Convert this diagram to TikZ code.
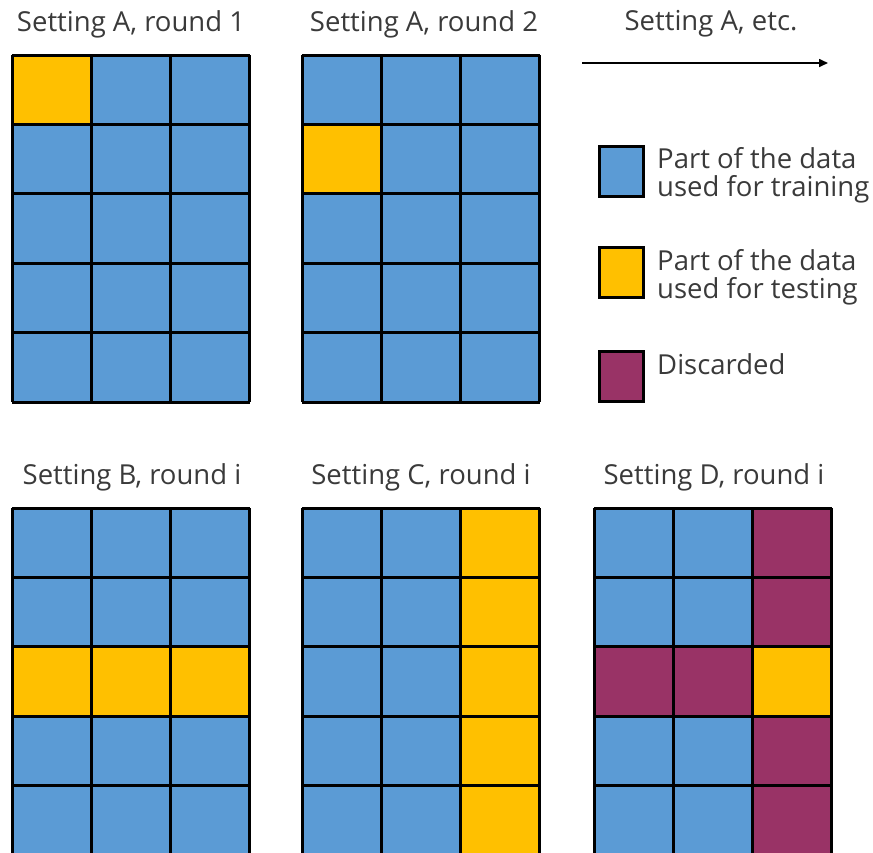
\documentclass[tikz,border=0pt]{standalone}
\usepackage{fontspec}
\setmainfont{Open Sans}
\usepackage{tikz}
\usetikzlibrary{positioning, calc, arrows.meta}
\definecolor{trainblue}{HTML}{5B9BD5}
\definecolor{testyellow}{HTML}{FFC000}
\definecolor{discardpurple}{HTML}{993366}
\definecolor{textgray}{HTML}{3A3A3A}
\tikzset{
    train/.style={fill=trainblue},
    test/.style={fill=testyellow},
    discard/.style={fill=discardpurple},
    gridline/.style={draw=black, line width=3pt},
    title/.style={font=\fontsize{27.5}{28}\selectfont, text=textgray, inner sep=0pt},
    legendtext/.style={font=\fontsize{27.5}{28}\selectfont, text=textgray, align=left, anchor=west, inner sep=0pt},
    keybox/.style={draw=black, line width=3pt, minimum width=44pt, minimum height=50pt, inner sep=0pt}
}
% cell (col,row) of a grid with top left corner #1
\newcommand{\gridcell}[4]{%
    \fill[#4] ($(#1)+({(#2)*79.3},{(#3)*69.4})$) rectangle ++(79.3,69.4);}
\newcommand{\gridlines}[1]{%
    \foreach \c in {0,...,3} {\draw[gridline] ($(#1)+({\c*79.3},0)$) -- ++(0,347);}
    \foreach \r in {0,...,5} {\draw[gridline] ($(#1)+(0,{\r*69.4})$) -- ++(238,0);}}

\begin{document}
\begin{tikzpicture}[x=1pt, y=-1pt]
    \useasboundingbox (0,0) rectangle (873,852);

    \coordinate (gA1) at (12,55);
    \coordinate (gA2) at (302,55);
    \coordinate (gB) at (12,508);
    \coordinate (gC) at (302,508);
    \coordinate (gD) at (594,508);

    % blue background of every grid
    \foreach \g in {gA1,gA2,gB,gC,gD}
        {\fill[train] (\g) rectangle ++(238,347);}

    % test and discarded cells
    \gridcell{gA1}{0}{0}{test}
    \gridcell{gA2}{0}{1}{test}
    \foreach \c in {0,1,2} {\gridcell{gB}{\c}{2}{test}}
    \foreach \r in {0,...,4} {\gridcell{gC}{2}{\r}{test}}
    \foreach \r in {0,1,3,4} {\gridcell{gD}{2}{\r}{discard}}
    \gridcell{gD}{0}{2}{discard}
    \gridcell{gD}{1}{2}{discard}
    \gridcell{gD}{2}{2}{test}

    \foreach \g in {gA1,gA2,gB,gC,gD}
        {\gridlines{\g}}

    % titles
    \node[title] (tA1) at (131,24) {Setting A, round 1};
    \node[title] (tA2) at (424,24) {Setting A, round 2};
    \node[title] (tA3) at (711,24) {Setting A, etc.};
    \node[title] (tB) at (132,477) {Setting B, round i};
    \node[title] (tC) at (421,477) {Setting C, round i};
    \node[title] (tD) at (714,477) {Setting D, round i};

    \coordinate (arrowstart) at (582,63);
    \coordinate (arrowend) at (828,63);
    \draw[line width=1.6pt, -{Triangle[length=9pt, width=8pt]}] (arrowstart) -- (arrowend);

    % legend
    \node[keybox, train] (ktrain) at (621,171) {};
    \node[keybox, test] (ktest) at (621,272) {};
    \node[keybox, discard] (kdiscard) at (621,376) {};
    \node[legendtext] (ltrain) at (657,175) {Part of the data\\used for training};
    \node[legendtext] (ltest) at (657,277) {Part of the data\\used for testing};
    \node[legendtext] (ldiscard) at (657,364) {Discarded};
\end{tikzpicture}
\end{document}
